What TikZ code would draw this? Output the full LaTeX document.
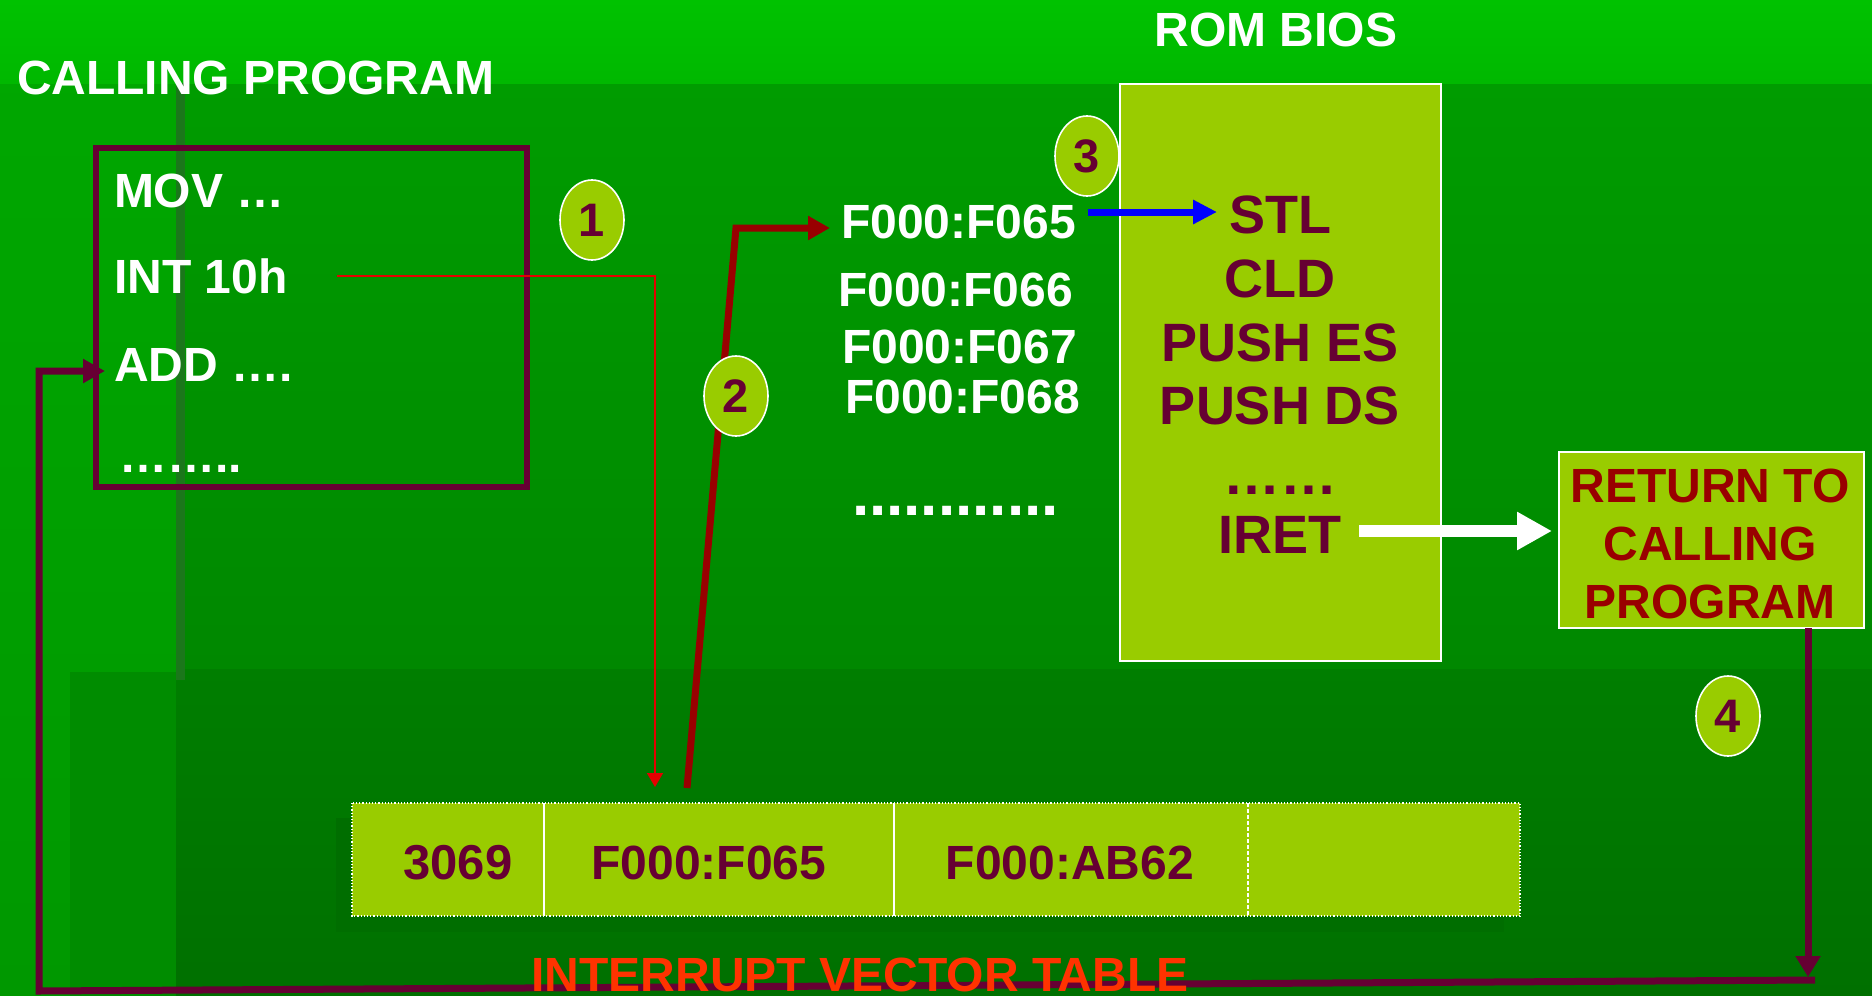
\documentclass[tikz,border=0pt]{standalone}
\usepackage{fontspec}
\setmainfont{Liberation Sans}
\usetikzlibrary{arrows.meta,shapes.geometric}
\definecolor{lime}{HTML}{99CC00}
\definecolor{plum}{HTML}{660033}
\definecolor{maroon}{HTML}{990000}
\definecolor{ivt}{HTML}{FF3300}
\definecolor{bandtop}{HTML}{00C200}
\definecolor{bandbot}{HTML}{00B800}
\definecolor{lefttop}{HTML}{00A800}
\definecolor{leftbot}{HTML}{009800}
\definecolor{maintop}{HTML}{009C00}
\definecolor{mainbot}{HTML}{008800}
\definecolor{lowtop}{HTML}{007E00}
\definecolor{lowbot}{HTML}{007000}
\definecolor{lowleft}{HTML}{008C00}
\definecolor{vline}{HTML}{1B771B}
\definecolor{shadowgreen}{HTML}{006E00}
\begin{document}
\begin{tikzpicture}[x=1pt,y=-1pt,
  basetxt/.style={font=\fontsize{48}{48}\selectfont\bfseries, inner sep=0, outer sep=0},
  wtxt/.style={basetxt, text=white},
  ptxt/.style={basetxt, text=plum},
  romtxt/.style={ptxt, anchor=base, font=\fontsize{54}{54}\selectfont\bfseries},
  badge/.style={ellipse, fill=lime, draw=white, line width=1.6, minimum width=64, minimum height=80,
    inner sep=0, text=plum, font=\fontsize{47}{47}\selectfont\bfseries},
  cell/.style={fill=lime, minimum height=113, inner sep=0, outer sep=0},
  retline/.style={plum, line width=7},
]
\useasboundingbox (0,0) rectangle (1872,996);
% background
\shade[top color=lefttop,bottom color=leftbot] (0,0) rectangle (1872,996);
\shade[top color=maintop,bottom color=mainbot] (185,83) rectangle (1872,669);
\fill[lowleft] (70,672) rectangle (176,996);
\shade[top color=lowtop,bottom color=lowbot] (176,669) rectangle (1872,996);
\shade[top color=bandtop,bottom color=bandbot] (0,0) rectangle (1872,83);
\fill[vline] (176,83) rectangle (185,680);
% table shadow and cells
\fill[shadowgreen] (336,818) rectangle (1504,932);
\node[cell, minimum width=192] (c1) at (448,859.5) {};
\node[cell, minimum width=350] (c2) at (719,859.5) {};
\node[cell, minimum width=354] (c3) at (1071,859.5) {};
\node[cell, minimum width=272] (c4) at (1384,859.5) {};
\draw[white, dotted, line width=1.2] (c1.north west) rectangle (c4.south east);
\draw[white, line width=2] (c1.north east) -- (c1.south east);
\draw[white, line width=2] (c2.north east) -- (c2.south east);
\draw[white, line width=1.2, dash pattern=on 4pt off 2pt] (c3.north east) -- (c3.south east);
\node[ptxt, anchor=base, font=\fontsize{49}{49}\selectfont\bfseries] (t1) at (458,879) {3069};
\node[ptxt, anchor=base] (t2) at (709,879) {F000:F065};
\node[ptxt, anchor=base] (t3) at (1070,879) {F000:AB62};
% boxes
\node[draw=plum, line width=6, minimum width=431, minimum height=339, inner sep=0] (prog) at (311.5,317.5) {};
\node[fill=lime, draw=white, line width=2, minimum width=321, minimum height=577, inner sep=0] (rom) at (1280.5,372) {};
\node[fill=lime, draw=white, line width=2.5, minimum width=305, minimum height=176, inner sep=0] (ret) at (1711.5,540) {};
\node[basetxt, align=center, text=maroon, font=\fontsize{48}{58}\selectfont\bfseries] (rett) at (1710,544) {RETURN TO\\CALLING\\PROGRAM};
% program text
\node[wtxt, anchor=base west] (mov) at (114,207) {MOV …};
\node[wtxt, anchor=base west] (int) at (114,293) {INT 10h};
\node[wtxt, anchor=base west] (add) at (114,381) {ADD ….};
\node[wtxt, anchor=base west] (pdots) at (119,472) {……..};
% coordinates for connectors
\coordinate (r0) at (337,276);
\coordinate (r1) at (655,787);
\coordinate (d0) at (687,788);
\coordinate (d1) at (736,228);
\coordinate (d2) at (830,228);
\coordinate (b0) at (1088,212);
\coordinate (b1) at (1217,212);
\coordinate (w0) at (1359,531);
\coordinate (w1) at (1552,531);
\coordinate (p0) at (1808,628);
\coordinate (p1) at (1808,977);
\coordinate (q0) at (1815,980);
\coordinate (q1) at (39,991);
\coordinate (q2) at (39,371);
\coordinate (q3) at (105,371);
% connectors
\draw[red!90!black, line width=1.6, -{Triangle[length=14pt,width=16pt]}] (r0) -| (r1);
\draw[maroon, line width=7, -{Triangle[length=22pt,width=23pt]}] (d0) -- (d1) -- (d2);
\draw[blue, line width=7, -{Triangle[length=24pt,width=23pt]}] (b0) -- (b1);
\draw[white, line width=12, -{Triangle[length=35pt,width=36pt]}] (w0) -- (w1);
\draw[retline, -{Triangle[length=21pt,width=24pt]}] (p0) -- (p1);
\draw[retline, -{Triangle[length=22pt,width=23pt]}] (q0) -- (q1) -- (q2) -- (q3);
% badges
\node[badge] (n1) at (592,220) {1};
\node[badge] (n2) at (736,396) {2};
\node[badge] (n3) at (1087,156) {3};
\node[badge] (n4) at (1728,716) {4};
% titles
\node[wtxt, anchor=base west, font=\fontsize{48}{48}\selectfont\bfseries] (cpl) at (17,94) {CALLING PROGRAM};
\node[wtxt, anchor=base] (rombios) at (1276,46) {ROM BIOS};
% addresses
\node[wtxt, anchor=base west] (a65) at (841,238) {F000:F065};
\node[wtxt, anchor=base west] (a66) at (838,306) {F000:F066};
\node[wtxt, anchor=base west] (a67) at (842,363) {F000:F067};
\node[wtxt, anchor=base west] (a68) at (845,413) {F000:F068};
\node[wtxt, anchor=base west, font=\fontsize{62}{62}\selectfont\bfseries] (adots) at (852,515) {............};
% ROM BIOS code
\node[romtxt] (stl) at (1280,233) {STL};
\node[romtxt] (cld) at (1280,297) {CLD};
\node[romtxt] (pes) at (1280,361) {PUSH ES};
\node[romtxt] (pds) at (1280,424) {PUSH DS};
\node[romtxt, font=\fontsize{57}{57}\selectfont\bfseries] (rdots) at (1280,494) {……};
\node[romtxt] (iret) at (1280,553) {IRET};
% table label
\node[basetxt, text=ivt, anchor=base] (ivtl) at (860,991) {INTERRUPT VECTOR TABLE};
\end{tikzpicture}
\end{document}
